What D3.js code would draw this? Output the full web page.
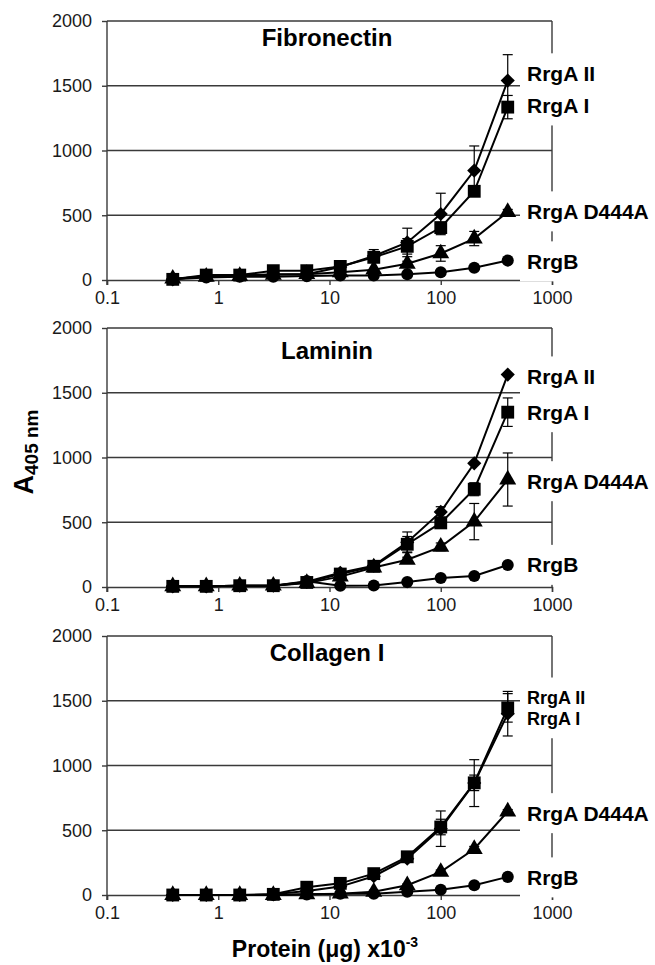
<!DOCTYPE html>
<html>
<head>
<meta charset="utf-8">
<script src="https://cdn.jsdelivr.net/npm/d3@7"></script>
<style>
  body { margin: 0; background: #fff; }
  svg { display: block; font-family: "Liberation Sans", Arial, Helvetica, sans-serif; }
</style>
</head>
<body>
<div id="chart"></div>
<script>
// protein amount (ug x10^-3), two-fold dilutions
const doses = [0.39, 0.78, 1.56, 3.125, 6.25, 12.5, 25, 50, 100, 200, 400];
const seriesNames = ["RrgA II", "RrgA I", "RrgA D444A", "RrgB"];
const panelTitles = ["Fibronectin", "Laminin", "Collagen I"];
const yTicks = [0, 500, 1000, 1500, 2000];
const xTicks = [0.1, 1, 10, 100, 1000];

// Fibronectin
const fnRrgAII   = [5, 30, 35, 45, 45, 100, 185, 290, 510, 845, 1540];
const fnRrgAIIsd = [0, 0, 0, 0, 0, 10, 50, 110, 160, 190, 200];
const fnRrgAI    = [5, 38, 38, 72, 72, 105, 175, 260, 405, 685, 1335];
const fnRrgAIsd  = [0, 0, 0, 0, 0, 0, 20, 60, 0, 0, 90];
const fnD444A    = [10, 25, 30, 40, 45, 60, 80, 125, 205, 320, 525];
const fnD444Asd  = [0, 0, 0, 0, 0, 0, 0, 20, 60, 55, 20];
const fnRrgB     = [5, 20, 25, 25, 30, 35, 35, 45, 60, 95, 150];
const fnRrgBsd   = [0, 0, 0, 0, 0, 0, 0, 0, 0, 0, 0];
// Laminin
const lnRrgAII   = [5, 5, 10, 10, 40, 110, 165, 345, 580, 955, 1640];
const lnRrgAIIsd = [0, 0, 0, 0, 0, 0, 0, 80, 40, 0, 0];
const lnRrgAI    = [5, 5, 10, 10, 35, 100, 160, 330, 495, 755, 1350];
const lnRrgAIsd  = [0, 0, 0, 0, 0, 0, 0, 60, 40, 50, 110];
const lnD444A    = [5, 5, 10, 10, 30, 80, 150, 210, 310, 505, 830];
const lnD444Asd  = [0, 0, 0, 0, 0, 0, 0, 20, 30, 140, 205];
const lnRrgB     = [5, 5, 10, 10, 45, 10, 12, 38, 70, 85, 170];
const lnRrgBsd   = [0, 0, 0, 0, 0, 0, 0, 0, 0, 0, 0];
// Collagen I
const cnRrgAII   = [0, 0, 0, 5, 30, 65, 145, 280, 512, 864, 1400];
const cnRrgAIIsd = [0, 0, 0, 0, 0, 0, 0, 0, 137, 181, 172];
const cnRrgAI    = [0, 0, 0, 5, 60, 90, 165, 295, 525, 866, 1445];
const cnRrgAIsd  = [0, 0, 0, 0, 0, 0, 0, 0, 60, 60, 110];
const cnD444A    = [0, 0, 0, 0, 5, 10, 25, 75, 178, 355, 645];
const cnD444Asd  = [0, 0, 0, 0, 0, 0, 0, 10, 15, 20, 15];
const cnRrgB     = [0, 0, 0, 0, 5, 10, 10, 25, 40, 75, 140];
const cnRrgBsd   = [0, 0, 0, 0, 0, 0, 0, 0, 0, 0, 0];

// where the series names sit (in A405 units), per panel
const fnLabelAt = [1596, 1348, 530, 144];
const lnLabelAt = [1626, 1350, 817, 171];
const cnLabelAt = [1525, 1365, 632, 136];

const panels = [
  { title: panelTitles[0], vals: [fnRrgAII, fnRrgAI, fnD444A, fnRrgB], sds: [fnRrgAIIsd, fnRrgAIsd, fnD444Asd, fnRrgBsd], labelAt: fnLabelAt, labelSize: [21, 21, 21, 21] },
  { title: panelTitles[1], vals: [lnRrgAII, lnRrgAI, lnD444A, lnRrgB], sds: [lnRrgAIIsd, lnRrgAIsd, lnD444Asd, lnRrgBsd], labelAt: lnLabelAt, labelSize: [21, 21, 21, 21] },
  { title: panelTitles[2], vals: [cnRrgAII, cnRrgAI, cnD444A, cnRrgB], sds: [cnRrgAIIsd, cnRrgAIsd, cnD444Asd, cnRrgBsd], labelAt: cnLabelAt, labelSize: [18, 18, 21, 21] }
];

const W = 655, H = 965;
const left = 107, right = 552;
const panelTops = [21, 328, 636];
const panelH = 259;
const titleDy = [25, 31, 25];

// squat diamond (rotated square), like the Excel marker
const diamond = {
  draw(ctx, size) {
    const r = Math.sqrt(size / 2);
    ctx.moveTo(0, -r); ctx.lineTo(r, 0); ctx.lineTo(0, r); ctx.lineTo(-r, 0); ctx.closePath();
  }
};
const symbols = [diamond, d3.symbolSquare, d3.symbolTriangle, d3.symbolCircle];
const symSize = [100, 165, 125, 115];
const drawOrder = [3, 2, 0, 1]; // squares end up on top

const svg = d3.select("#chart").append("svg")
  .attr("width", W).attr("height", H);

const x = d3.scaleLog().domain([0.1, 1000]).range([left, right]);

panels.forEach((p, pi) => {
  const top = panelTops[pi];
  const y = d3.scaleLinear().domain([0, 2000]).range([top + panelH, top]);
  const g = svg.append("g");

  // grid lines (2000 acts as top border)
  g.selectAll(".grid").data(yTicks.slice(1)).join("line")
    .attr("x1", left).attr("x2", right)
    .attr("y1", d => y(d)).attr("y2", d => y(d))
    .attr("stroke", "#3a3a3a").attr("stroke-width", 1.4);

  // right border
  g.append("line")
    .attr("x1", right).attr("x2", right)
    .attr("y1", y(2000)).attr("y2", y(0))
    .attr("stroke", "#3a3a3a").attr("stroke-width", 1.4);

  // y axis
  g.append("g")
    .attr("transform", `translate(${left},0)`)
    .call(d3.axisLeft(y).tickValues(yTicks).tickSize(5).tickPadding(10).tickFormat(d3.format("d")))
    .call(a => a.select(".domain").remove())
    .call(a => a.selectAll(".tick line").attr("stroke", "#3a3a3a").attr("stroke-width", 1.4))
    .call(a => a.selectAll("text").attr("font-size", 18).attr("fill", "#1a1a1a")
      .attr("font-family", "Liberation Sans, Arial, sans-serif"));

  // x axis
  g.append("g")
    .attr("transform", `translate(0,${y(0)})`)
    .call(d3.axisBottom(x).tickValues(xTicks).tickSize(5).tickPadding(6).tickFormat(d => String(d)))
    .call(a => a.select(".domain").attr("stroke", "#3a3a3a").attr("stroke-width", 1.4))
    .call(a => a.selectAll(".tick line").attr("stroke", "#3a3a3a").attr("stroke-width", 1.4))
    .call(a => a.selectAll("text").attr("font-size", 18).attr("fill", "#1a1a1a")
      .attr("font-family", "Liberation Sans, Arial, sans-serif"));

  // left axis line
  g.append("line")
    .attr("x1", left).attr("x2", left)
    .attr("y1", y(2000)).attr("y2", y(0) + 5)
    .attr("stroke", "#3a3a3a").attr("stroke-width", 1.4);

  // title
  g.append("text")
    .attr("x", 327).attr("y", top + titleDy[pi])
    .attr("text-anchor", "middle")
    .attr("font-size", 24).attr("font-weight", "bold")
    .text(p.title);

  // series
  const line = d3.line().x(d => x(d.x)).y(d => y(d.v));
  drawOrder.forEach(si => {
    const pts = doses.map((d, i) => ({ x: d, v: p.vals[si][i], sd: p.sds[si][i] }));
    const sg = g.append("g");

    // error bars
    const eb = pts.filter(d => d.sd > 0);
    sg.selectAll(".eb").data(eb).join("line")
      .attr("x1", d => x(d.x)).attr("x2", d => x(d.x))
      .attr("y1", d => y(d.v - d.sd)).attr("y2", d => y(d.v + d.sd))
      .attr("stroke", "#000").attr("stroke-width", 1.2);
    sg.selectAll(".capT").data(eb).join("line")
      .attr("x1", d => x(d.x) - 5).attr("x2", d => x(d.x) + 5)
      .attr("y1", d => y(d.v + d.sd)).attr("y2", d => y(d.v + d.sd))
      .attr("stroke", "#000").attr("stroke-width", 1.2);
    sg.selectAll(".capB").data(eb).join("line")
      .attr("x1", d => x(d.x) - 5).attr("x2", d => x(d.x) + 5)
      .attr("y1", d => y(d.v - d.sd)).attr("y2", d => y(d.v - d.sd))
      .attr("stroke", "#000").attr("stroke-width", 1.2);

    sg.append("path").datum(pts)
      .attr("fill", "none").attr("stroke", "#000").attr("stroke-width", 2)
      .attr("d", line);

    sg.selectAll(".mk").data(pts).join("path")
      .attr("transform", d => `translate(${x(d.x)},${y(d.v)})`)
      .attr("d", d3.symbol().type(symbols[si]).size(symSize[si]))
      .attr("fill", "#000");
  });

  // series labels with white boxes
  seriesNames.forEach((name, si) => {
    const cy = y(p.labelAt[si]);
    g.append("rect")
      .attr("x", 520).attr("y", cy - 20).attr("width", W - 520).attr("height", 40)
      .attr("fill", "#fff");
  });
  seriesNames.forEach((name, si) => {
    g.append("text")
      .attr("x", 527).attr("y", y(p.labelAt[si]))
      .attr("dy", "0.36em")
      .attr("font-size", p.labelSize[si]).attr("font-weight", "bold")
      .text(name);
  });
});

// y axis title
const yt = svg.append("text")
  .attr("transform", "translate(33,452) rotate(-90)")
  .attr("text-anchor", "middle")
  .attr("font-weight", "bold");
yt.append("tspan").attr("font-size", 27).text("A");
yt.append("tspan").attr("font-size", 19).attr("dy", 5).text("405 nm");

// x axis title
const xt = svg.append("text")
  .attr("x", 325).attr("y", 957)
  .attr("text-anchor", "middle")
  .attr("font-size", 23).attr("font-weight", "bold");
xt.append("tspan").text("Protein (μg) x10");
xt.append("tspan").attr("font-size", 14).attr("dy", -10).text("-3");
</script>
</body>
</html>
